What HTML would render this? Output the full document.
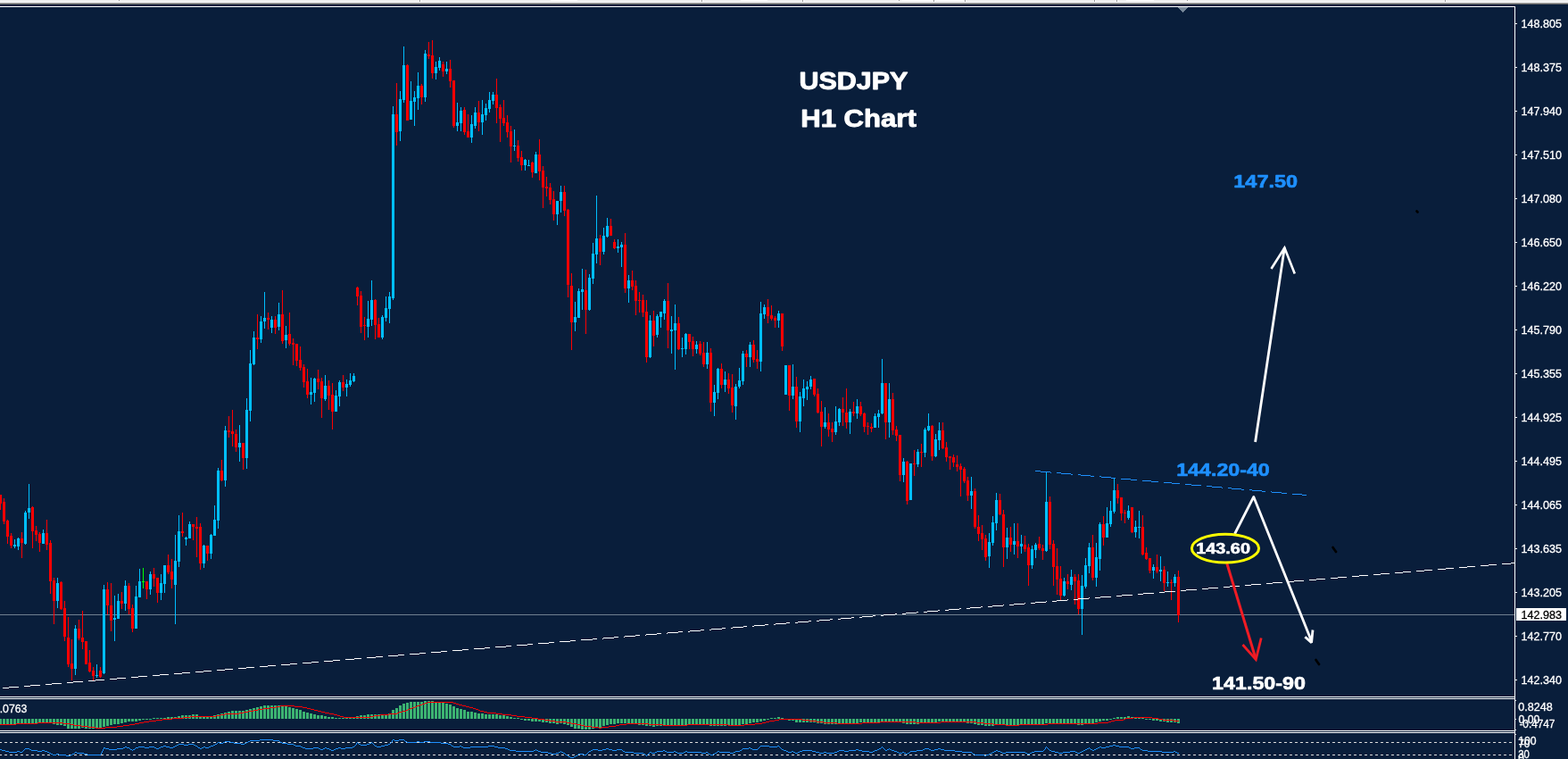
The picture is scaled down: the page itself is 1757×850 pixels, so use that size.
<!DOCTYPE html>
<html><head><meta charset="utf-8"><title>USDJPY H1 Chart</title>
<style>
html,body{margin:0;padding:0;background:#091e3b;overflow:hidden}
svg{display:block}
text{font-family:"Liberation Sans",sans-serif}
.ax{font-size:12.2px;fill:#fff;stroke:#fff;stroke-width:0.3px}
.t{font-weight:bold}
</style></head><body>
<svg width="1757" height="850" viewBox="0 0 1757 850">
<rect width="1757" height="850" fill="#091e3b"/>
<g shape-rendering="crispEdges"><rect width="1757" height="2" fill="#f0f0f0"/><rect y="2" width="1757" height="1" fill="#f6f6f6"/><rect y="3" width="1757" height="1" fill="#a0a0a0"/><rect y="4" width="1757" height="1" fill="#696969"/></g>

<g shape-rendering="crispEdges">
<rect x="617" y="0" width="30" height="1" fill="#fff"/>
<rect x="830" y="0" width="30" height="1" fill="#fff"/>
<rect x="1010" y="0" width="35" height="1" fill="#fff"/>
<rect x="1047" y="0" width="33" height="1" fill="#fff"/>
<rect x="1262" y="0" width="31" height="1" fill="#fff"/>
<rect x="470" y="0" width="1" height="2" fill="#9a9a9a"/><rect x="471" y="0" width="1" height="2" fill="#fff"/>
<rect x="786" y="0" width="1" height="2" fill="#9a9a9a"/><rect x="787" y="0" width="1" height="2" fill="#fff"/>
<rect x="899" y="0" width="1" height="2" fill="#9a9a9a"/><rect x="900" y="0" width="1" height="2" fill="#fff"/>
<rect x="1046" y="0" width="1" height="2" fill="#9a9a9a"/><rect x="1047" y="0" width="1" height="2" fill="#fff"/>
<rect x="1081" y="0" width="1" height="2" fill="#9a9a9a"/><rect x="1082" y="0" width="1" height="2" fill="#fff"/>
<rect x="1226" y="0" width="1" height="2" fill="#9a9a9a"/><rect x="1227" y="0" width="1" height="2" fill="#fff"/>
<rect x="1251" y="0" width="1" height="2" fill="#9a9a9a"/><rect x="1252" y="0" width="1" height="2" fill="#fff"/>
<rect x="1619" y="0" width="1" height="2" fill="#9a9a9a"/><rect x="1620" y="0" width="1" height="2" fill="#fff"/>
<rect x="133" y="0" width="1" height="1" fill="#9a9a9a"/>
<rect x="1007" y="0" width="1" height="1" fill="#9a9a9a"/>
<rect x="1330" y="0" width="1" height="1" fill="#9a9a9a"/>
</g>
<path shape-rendering="crispEdges" fill="#778899" d="M1320 8h11v1h-11zM1321 9h9v1h-9zM1322 10h7v1h-7zM1323 11h5v1h-5zM1324 12h3v1h-3zM1325 13h1v1h-1z"/>
<g shape-rendering="crispEdges" fill="#fff">
<rect x="0" y="7" width="1698" height="1"/>
<rect x="1697" y="7" width="1" height="843"/>
<rect x="0" y="780" width="1698" height="1"/><rect x="0" y="782" width="1698" height="1"/>
<rect x="0" y="818" width="1698" height="1"/><rect x="0" y="820" width="1698" height="1"/>
<rect x="1698" y="26" width="2" height="1"/>
<rect x="1698" y="75" width="2" height="1"/>
<rect x="1698" y="124" width="2" height="1"/>
<rect x="1698" y="173" width="2" height="1"/>
<rect x="1698" y="222" width="2" height="1"/>
<rect x="1698" y="271" width="2" height="1"/>
<rect x="1698" y="320" width="2" height="1"/>
<rect x="1698" y="369" width="2" height="1"/>
<rect x="1698" y="418" width="2" height="1"/>
<rect x="1698" y="467" width="2" height="1"/>
<rect x="1698" y="516" width="2" height="1"/>
<rect x="1698" y="565" width="2" height="1"/>
<rect x="1698" y="614" width="2" height="1"/>
<rect x="1698" y="663" width="2" height="1"/>
<rect x="1698" y="712" width="2" height="1"/>
<rect x="1698" y="761" width="2" height="1"/>
</g>
<text class="ax" x="1704.6" y="30.7" textLength="45.3" lengthAdjust="spacingAndGlyphs">148.805</text>
<text class="ax" x="1704.6" y="79.7" textLength="45.3" lengthAdjust="spacingAndGlyphs">148.375</text>
<text class="ax" x="1704.6" y="128.7" textLength="45.3" lengthAdjust="spacingAndGlyphs">147.940</text>
<text class="ax" x="1704.6" y="177.7" textLength="45.3" lengthAdjust="spacingAndGlyphs">147.510</text>
<text class="ax" x="1704.6" y="226.7" textLength="45.3" lengthAdjust="spacingAndGlyphs">147.080</text>
<text class="ax" x="1704.6" y="275.7" textLength="45.3" lengthAdjust="spacingAndGlyphs">146.650</text>
<text class="ax" x="1704.6" y="324.7" textLength="45.3" lengthAdjust="spacingAndGlyphs">146.220</text>
<text class="ax" x="1704.6" y="373.7" textLength="45.3" lengthAdjust="spacingAndGlyphs">145.790</text>
<text class="ax" x="1704.6" y="422.7" textLength="45.3" lengthAdjust="spacingAndGlyphs">145.355</text>
<text class="ax" x="1704.6" y="471.7" textLength="45.3" lengthAdjust="spacingAndGlyphs">144.925</text>
<text class="ax" x="1704.6" y="520.7" textLength="45.3" lengthAdjust="spacingAndGlyphs">144.495</text>
<text class="ax" x="1704.6" y="569.7" textLength="45.3" lengthAdjust="spacingAndGlyphs">144.065</text>
<text class="ax" x="1704.6" y="618.7" textLength="45.3" lengthAdjust="spacingAndGlyphs">143.635</text>
<text class="ax" x="1704.6" y="667.7" textLength="45.3" lengthAdjust="spacingAndGlyphs">143.205</text>
<text class="ax" x="1704.6" y="716.7" textLength="45.3" lengthAdjust="spacingAndGlyphs">142.770</text>
<text class="ax" x="1704.6" y="765.7" textLength="45.3" lengthAdjust="spacingAndGlyphs">142.340</text>
<rect x="0" y="688" width="1697" height="1" fill="#708090" shape-rendering="crispEdges"/>
<rect x="1699" y="681" width="56" height="14" fill="#fff" shape-rendering="crispEdges"/>
<text class="ax" x="1704.6" y="692.8" textLength="45.3" lengthAdjust="spacingAndGlyphs" style="fill:#000;stroke:#000">142.983</text>
<g shape-rendering="crispEdges"><path fill="#ff0000" d="M0 554h1v17h-1zM-1 554h3v10h-3zM4 558h1v29h-1zM3 562h3v22h-3zM8 582h1v27h-1zM7 583h3v18h-3zM12 597h1v17h-1zM11 600h3v11h-3zM24 596h1v29h-1zM23 603h3v5h-3zM36 567h1v47h-1zM35 568h3v27h-3zM40 589h1v17h-1zM39 594h3v5h-3zM44 596h1v22h-1zM43 598h3v10h-3zM52 582h1v34h-1zM51 597h3v13h-3zM56 605h1v60h-1zM55 608h3v43h-3zM60 647h1v52h-1zM59 650h3v23h-3zM68 651h1v32h-1zM67 652h3v30h-3zM72 673h1v45h-1zM71 681h3v32h-3zM76 691h1v56h-1zM75 714h3v30h-3zM80 716h1v46h-1zM79 743h3v6h-3zM88 694h1v23h-1zM87 704h3v11h-3zM92 684h1v43h-1zM91 714h3v5h-3zM96 718h1v26h-1zM95 718h3v26h-3zM100 728h1v25h-1zM99 742h3v10h-3zM104 747h1v15h-1zM103 751h3v6h-3zM112 747h1v12h-1zM111 751h3v7h-3zM120 652h1v36h-1zM119 660h3v18h-3zM124 653h1v54h-1zM123 678h3v17h-3zM136 663h1v19h-1zM135 673h3v3h-3zM144 653h1v35h-1zM143 656h3v26h-3zM148 677h1v31h-1zM147 681h3v23h-3zM164 651h1v20h-1zM163 651h3v9h-3zM172 636h1v21h-1zM171 643h3v5h-3zM176 647h1v28h-1zM175 647h3v17h-3zM188 621h1v22h-1zM187 633h3v8h-3zM192 626h1v33h-1zM191 640h3v9h-3zM204 574h1v27h-1zM203 595h3v2h-3zM216 587h1v18h-1zM215 587h3v3h-3zM220 579h1v45h-1zM219 590h3v2h-3zM224 586h1v52h-1zM223 590h3v41h-3zM232 611h1v17h-1zM231 611h3v9h-3zM248 515h1v24h-1zM247 527h3v11h-3zM256 466h1v24h-1zM255 482h3v2h-3zM260 459h1v41h-1zM259 483h3v3h-3zM264 481h1v25h-1zM263 486h3v15h-3zM272 496h1v30h-1zM271 496h3v17h-3zM288 352h1v39h-1zM287 378h3v2h-3zM300 350h1v19h-1zM299 356h3v2h-3zM308 354h1v20h-1zM307 358h3v9h-3zM316 325h1v60h-1zM315 352h3v30h-3zM324 350h1v37h-1zM323 374h3v11h-3zM328 379h1v30h-1zM327 384h3v2h-3zM332 385h1v25h-1zM331 385h3v19h-3zM336 388h1v27h-1zM335 403h3v9h-3zM340 408h1v26h-1zM339 411h3v17h-3zM344 413h1v33h-1zM343 427h3v15h-3zM356 414h1v22h-1zM355 424h3v4h-3zM360 423h1v45h-1zM359 427h3v19h-3zM368 426h1v33h-1zM367 432h3v11h-3zM372 429h1v52h-1zM371 442h3v19h-3zM384 420h1v18h-1zM383 428h3v6h-3zM400 321h1v21h-1zM399 322h3v10h-3zM404 326h1v47h-1zM403 331h3v35h-3zM408 355h1v26h-1zM407 364h3v1h-3zM420 335h1v45h-1zM419 336h3v28h-3zM424 356h1v22h-1zM423 363h3v15h-3zM444 93h1v70h-1zM443 128h3v20h-3zM456 72h1v63h-1zM455 73h3v62h-3zM472 94h1v23h-1zM471 96h3v13h-3zM480 47h1v19h-1zM479 61h3v2h-3zM484 45h1v43h-1zM483 62h3v20h-3zM496 69h1v17h-1zM495 72h3v8h-3zM504 67h1v31h-1zM503 77h3v14h-3zM508 90h1v53h-1zM507 90h3v51h-3zM520 120h1v31h-1zM519 123h3v25h-3zM524 128h1v26h-1zM523 147h3v7h-3zM536 113h1v34h-1zM535 126h3v11h-3zM556 88h1v50h-1zM555 106h3v15h-3zM560 117h1v42h-1zM559 120h3v13h-3zM564 112h1v29h-1zM563 132h3v6h-3zM568 129h1v25h-1zM567 137h3v11h-3zM572 141h1v41h-1zM571 147h3v17h-3zM580 157h1v24h-1zM579 163h3v14h-3zM584 169h1v22h-1zM583 176h3v9h-3zM596 181h1v18h-1zM595 182h3v11h-3zM604 156h1v46h-1zM603 173h3v19h-3zM608 186h1v47h-1zM607 191h3v19h-3zM612 198h1v22h-1zM611 209h3v2h-3zM616 205h1v24h-1zM615 210h3v14h-3zM620 214h1v33h-1zM619 223h3v17h-3zM632 208h1v34h-1zM631 215h3v21h-3zM636 234h1v99h-1zM635 235h3v84h-3zM640 306h1v86h-1zM639 320h3v41h-3zM656 302h1v72h-1zM655 325h3v22h-3zM672 263h1v34h-1zM671 267h3v15h-3zM684 245h1v19h-1zM683 253h3v11h-3zM688 268h1v11h-1zM687 271h3v7h-3zM700 261h1v67h-1zM699 274h3v49h-3zM708 303h1v22h-1zM707 314h3v7h-3zM712 314h1v39h-1zM711 320h3v17h-3zM716 327h1v23h-1zM715 336h3v1h-3zM720 330h1v25h-1zM719 336h3v14h-3zM724 336h1v70h-1zM723 349h3v51h-3zM732 348h1v40h-1zM731 359h3v17h-3zM748 317h1v73h-1zM747 337h3v33h-3zM760 355h1v37h-1zM759 362h3v29h-3zM772 374h1v17h-1zM771 374h3v9h-3zM776 377h1v22h-1zM775 382h3v9h-3zM784 382h1v16h-1zM783 385h3v11h-3zM788 383h1v28h-1zM787 395h3v13h-3zM796 390h1v71h-1zM795 395h3v56h-3zM808 407h1v28h-1zM807 413h3v18h-3zM816 418h1v23h-1zM815 425h3v10h-3zM820 419h1v43h-1zM819 434h3v20h-3zM836 392h1v19h-1zM835 396h3v4h-3zM844 381h1v25h-1zM843 386h3v17h-3zM848 392h1v21h-1zM847 402h3v3h-3zM860 335h1v27h-1zM859 344h3v10h-3zM864 342h1v17h-1zM863 353h3v4h-3zM868 354h1v13h-1zM867 356h3v3h-3zM876 351h1v42h-1zM875 351h3v37h-3zM884 409h1v51h-1zM883 409h3v34h-3zM892 422h1v57h-1zM891 433h3v39h-3zM912 424h1v20h-1zM911 424h3v18h-3zM916 435h1v28h-1zM915 441h3v21h-3zM920 449h1v51h-1zM919 461h3v17h-3zM928 463h1v26h-1zM927 473h3v8h-3zM932 473h1v22h-1zM931 480h3v4h-3zM944 445h1v32h-1zM943 458h3v4h-3zM948 435h1v45h-1zM947 462h3v11h-3zM956 450h1v16h-1zM955 461h3v2h-3zM964 450h1v16h-1zM963 455h3v9h-3zM968 462h1v22h-1zM967 463h3v15h-3zM972 473h1v14h-1zM971 477h3v1h-3zM976 474h1v10h-1zM975 478h3v2h-3zM992 429h1v63h-1zM991 429h3v44h-3zM1000 440h1v47h-1zM999 447h3v35h-3zM1004 477h1v17h-1zM1003 481h3v7h-3zM1008 487h1v52h-1zM1007 487h3v45h-3zM1016 516h1v49h-1zM1015 517h3v44h-3zM1024 504h1v29h-1zM1023 519h3v1h-3zM1032 497h1v26h-1zM1031 506h3v1h-3zM1044 476h1v40h-1zM1043 477h3v34h-3zM1056 473h1v30h-1zM1055 482h3v20h-3zM1060 495h1v22h-1zM1059 501h3v11h-3zM1064 511h1v15h-1zM1063 511h3v2h-3zM1068 509h1v14h-1zM1067 512h3v6h-3zM1072 510h1v18h-1zM1071 520h3v3h-3zM1076 519h1v37h-1zM1075 522h3v4h-3zM1080 523h1v18h-1zM1079 525h3v14h-3zM1084 534h1v27h-1zM1083 538h3v17h-3zM1092 547h1v45h-1zM1091 550h3v40h-3zM1096 577h1v29h-1zM1095 590h3v8h-3zM1100 588h1v28h-1zM1099 597h3v7h-3zM1104 599h1v29h-1zM1103 603h3v21h-3zM1120 553h1v24h-1zM1119 560h3v16h-3zM1124 571h1v64h-1zM1123 576h3v37h-3zM1132 590h1v28h-1zM1131 602h3v8h-3zM1140 586h1v39h-1zM1139 606h3v6h-3zM1148 600h1v18h-1zM1147 610h3v5h-3zM1152 609h1v47h-1zM1151 613h3v20h-3zM1164 601h1v15h-1zM1163 609h3v5h-3zM1168 610h1v17h-1zM1167 614h3v3h-3zM1176 556h1v59h-1zM1175 562h3v48h-3zM1180 605h1v51h-1zM1179 609h3v26h-3zM1184 614h1v52h-1zM1183 634h3v15h-3zM1188 634h1v38h-1zM1187 648h3v19h-3zM1196 643h1v17h-1zM1195 651h3v3h-3zM1204 643h1v34h-1zM1203 646h3v5h-3zM1208 643h1v45h-1zM1207 650h3v32h-3zM1224 599h1v51h-1zM1223 613h3v34h-3zM1236 578h1v33h-1zM1235 587h3v15h-3zM1252 542h1v22h-1zM1251 549h3v9h-3zM1256 557h1v26h-1zM1255 557h3v18h-3zM1260 571h1v15h-1zM1259 574h3v1h-3zM1268 568h1v29h-1zM1267 568h3v28h-3zM1280 577h1v45h-1zM1279 590h3v31h-3zM1284 613h1v14h-1zM1283 619h3v7h-3zM1288 625h1v17h-1zM1287 625h3v14h-3zM1296 621h1v21h-1zM1295 635h3v5h-3zM1304 634h1v28h-1zM1303 638h3v15h-3zM1312 649h1v23h-1zM1311 652h3v1h-3zM1320 639h1v58h-1zM1319 646h3v43h-3z"/><path fill="#00bfff" d="M16 604h1v10h-1zM15 610h3v2h-3zM20 602h1v14h-1zM19 603h3v9h-3zM28 572h1v38h-1zM27 574h3v35h-3zM32 542h1v39h-1zM31 569h3v5h-3zM48 593h1v16h-1zM47 597h3v12h-3zM64 647h1v34h-1zM63 653h3v20h-3zM84 700h1v56h-1zM83 704h3v45h-3zM108 744h1v15h-1zM107 756h3v1h-3zM116 655h1v100h-1zM115 660h3v94h-3zM128 667h1v51h-1zM127 692h3v2h-3zM132 665h1v28h-1zM131 673h3v20h-3zM140 650h1v34h-1zM139 656h3v20h-3zM152 656h1v48h-1zM151 668h3v36h-3zM156 637h1v32h-1zM155 651h3v18h-3zM168 640h1v26h-1zM167 643h3v17h-3zM180 643h1v29h-1zM179 653h3v11h-3zM184 633h1v31h-1zM183 633h3v21h-3zM196 599h1v100h-1zM195 628h3v27h-3zM200 577h1v58h-1zM199 595h3v34h-3zM208 601h1v10h-1zM207 602h3v2h-3zM212 584h1v19h-1zM211 587h3v16h-3zM228 610h1v26h-1zM227 611h3v20h-3zM236 598h1v28h-1zM235 599h3v21h-3zM240 566h1v34h-1zM239 582h3v18h-3zM244 524h1v68h-1zM243 527h3v56h-3zM252 477h1v68h-1zM251 482h3v56h-3zM268 476h1v41h-1zM267 496h3v5h-3zM276 446h1v79h-1zM275 459h3v54h-3zM280 392h1v80h-1zM279 407h3v53h-3zM284 371h1v38h-1zM283 378h3v30h-3zM292 354h1v30h-1zM291 360h3v20h-3zM296 327h1v41h-1zM295 356h3v4h-3zM304 354h1v19h-1zM303 358h3v9h-3zM312 339h1v31h-1zM311 352h3v14h-3zM320 365h1v25h-1zM319 375h3v6h-3zM348 423h1v30h-1zM347 439h3v3h-3zM352 423h1v27h-1zM351 424h3v16h-3zM364 420h1v29h-1zM363 432h3v15h-3zM376 437h1v24h-1zM375 443h3v18h-3zM380 426h1v29h-1zM379 428h3v16h-3zM388 425h1v19h-1zM387 430h3v4h-3zM392 418h1v15h-1zM391 426h3v5h-3zM396 418h1v10h-1zM395 421h3v6h-3zM412 337h1v41h-1zM411 357h3v9h-3zM416 314h1v51h-1zM415 336h3v22h-3zM428 353h1v27h-1zM427 355h3v23h-3zM432 332h1v28h-1zM431 345h3v11h-3zM436 327h1v35h-1zM435 332h3v14h-3zM440 119h1v217h-1zM439 128h3v206h-3zM448 102h1v56h-1zM447 111h3v36h-3zM452 52h1v63h-1zM451 73h3v39h-3zM460 91h1v43h-1zM459 113h3v21h-3zM464 102h1v39h-1zM463 109h3v5h-3zM468 81h1v42h-1zM467 96h3v14h-3zM476 56h1v58h-1zM475 60h3v49h-3zM488 69h1v20h-1zM487 75h3v7h-3zM492 64h1v15h-1zM491 68h3v8h-3zM500 69h1v14h-1zM499 77h3v3h-3zM512 115h1v32h-1zM511 137h3v4h-3zM516 120h1v27h-1zM515 124h3v14h-3zM528 129h1v31h-1zM527 139h3v15h-3zM532 120h1v24h-1zM531 126h3v15h-3zM540 112h1v39h-1zM539 128h3v9h-3zM544 116h1v19h-1zM543 121h3v8h-3zM548 103h1v23h-1zM547 112h3v10h-3zM552 103h1v14h-1zM551 106h3v7h-3zM576 145h1v24h-1zM575 163h3v1h-3zM588 178h1v13h-1zM587 179h3v6h-3zM592 179h1v7h-1zM591 185h3v1h-3zM600 170h1v24h-1zM599 173h3v21h-3zM624 225h1v27h-1zM623 225h3v15h-3zM628 208h1v30h-1zM627 215h3v10h-3zM644 338h1v33h-1zM643 355h3v6h-3zM648 323h1v33h-1zM647 326h3v30h-3zM652 301h1v46h-1zM651 324h3v3h-3zM660 307h1v41h-1zM659 311h3v36h-3zM664 272h1v46h-1zM663 284h3v28h-3zM668 219h1v76h-1zM667 267h3v18h-3zM676 255h1v30h-1zM675 264h3v18h-3zM680 244h1v22h-1zM679 253h3v12h-3zM692 268h1v15h-1zM691 276h3v2h-3zM696 271h1v28h-1zM695 274h3v3h-3zM704 308h1v31h-1zM703 314h3v9h-3zM728 353h1v48h-1zM727 359h3v41h-3zM736 352h1v26h-1zM735 354h3v21h-3zM740 349h1v18h-1zM739 349h3v6h-3zM744 335h1v23h-1zM743 337h3v14h-3zM752 354h1v42h-1zM751 369h3v2h-3zM756 341h1v73h-1zM755 362h3v8h-3zM764 378h1v22h-1zM763 390h3v1h-3zM768 373h1v24h-1zM767 374h3v17h-3zM780 382h1v14h-1zM779 386h3v5h-3zM792 383h1v30h-1zM791 395h3v13h-3zM800 431h1v35h-1zM799 439h3v12h-3zM804 412h1v35h-1zM803 413h3v27h-3zM812 416h1v23h-1zM811 425h3v6h-3zM824 430h1v40h-1zM823 433h3v22h-3zM828 412h1v23h-1zM827 426h3v7h-3zM832 393h1v38h-1zM831 396h3v31h-3zM840 383h1v28h-1zM839 386h3v14h-3zM852 338h1v78h-1zM851 351h3v54h-3zM856 341h1v16h-1zM855 344h3v8h-3zM872 348h1v19h-1zM871 351h3v8h-3zM880 409h1v33h-1zM879 409h3v33h-3zM888 408h1v39h-1zM887 433h3v10h-3zM896 439h1v45h-1zM895 444h3v28h-3zM900 425h1v30h-1zM899 435h3v11h-3zM904 427h1v21h-1zM903 433h3v3h-3zM908 421h1v15h-1zM907 425h3v8h-3zM924 456h1v24h-1zM923 473h3v5h-3zM936 455h1v32h-1zM935 472h3v12h-3zM940 457h1v20h-1zM939 458h3v15h-3zM952 458h1v28h-1zM951 461h3v12h-3zM960 447h1v22h-1zM959 455h3v8h-3zM980 463h1v16h-1zM979 466h3v13h-3zM984 459h1v20h-1zM983 463h3v4h-3zM988 402h1v62h-1zM987 429h3v34h-3zM996 429h1v61h-1zM995 447h3v26h-3zM1012 513h1v27h-1zM1011 517h3v15h-3zM1020 519h1v41h-1zM1019 519h3v41h-3zM1028 503h1v20h-1zM1027 506h3v14h-3zM1036 479h1v33h-1zM1035 481h3v26h-3zM1040 463h1v20h-1zM1039 477h3v5h-3zM1048 486h1v26h-1zM1047 492h3v19h-3zM1052 473h1v31h-1zM1051 482h3v11h-3zM1088 534h1v36h-1zM1087 550h3v5h-3zM1108 597h1v39h-1zM1107 607h3v16h-3zM1112 578h1v33h-1zM1111 585h3v23h-3zM1116 552h1v42h-1zM1115 560h3v26h-3zM1128 591h1v35h-1zM1127 602h3v11h-3zM1136 586h1v35h-1zM1135 606h3v4h-3zM1144 599h1v21h-1zM1143 609h3v3h-3zM1156 611h1v26h-1zM1155 615h3v18h-3zM1160 608h1v17h-1zM1159 610h3v6h-3zM1172 529h1v89h-1zM1171 562h3v55h-3zM1192 647h1v21h-1zM1191 651h3v16h-3zM1200 638h1v23h-1zM1199 646h3v9h-3zM1212 644h1v67h-1zM1211 656h3v26h-3zM1216 625h1v34h-1zM1215 633h3v24h-3zM1220 608h1v34h-1zM1219 613h3v21h-3zM1228 608h1v49h-1zM1227 624h3v23h-3zM1232 585h1v54h-1zM1231 587h3v39h-3zM1240 568h1v34h-1zM1239 586h3v16h-3zM1244 561h1v29h-1zM1243 572h3v15h-3zM1248 535h1v40h-1zM1247 549h3v24h-3zM1264 566h1v16h-1zM1263 572h3v8h-3zM1272 583h1v19h-1zM1271 590h3v6h-3zM1276 572h1v31h-1zM1275 590h3v1h-3zM1292 632h1v16h-1zM1291 635h3v4h-3zM1300 623h1v28h-1zM1299 638h3v2h-3zM1308 640h1v17h-1zM1307 652h3v1h-3zM1316 643h1v14h-1zM1315 646h3v7h-3z"/><path fill="#00ff00" d="M160 636h1v23h-1zM159 651h3v1h-3z"/></g>
<path fill="#fff" shape-rendering="crispEdges" d="M3 770h7v1h-7zM10 769h11v1h-11zM27 768h7v1h-7zM34 767h11v1h-11zM51 766h7v1h-7zM58 765h11v1h-11zM75 764h7v1h-7zM82 763h11v1h-11zM99 762h8v1h-8zM107 761h10v1h-10zM123 760h8v1h-8zM131 759h10v1h-10zM147 758h8v1h-8zM155 757h10v1h-10zM171 756h8v1h-8zM179 755h10v1h-10zM195 754h9v1h-9zM204 753h9v1h-9zM219 752h9v1h-9zM228 751h9v1h-9zM243 750h9v1h-9zM252 749h9v1h-9zM267 748h9v1h-9zM276 747h9v1h-9zM291 746h9v1h-9zM300 745h9v1h-9zM315 744h10v1h-10zM325 743h8v1h-8zM339 742h10v1h-10zM349 741h8v1h-8zM363 740h10v1h-10zM373 739h8v1h-8zM387 738h10v1h-10zM397 737h8v1h-8zM411 736h10v1h-10zM421 735h8v1h-8zM435 734h11v1h-11zM446 733h7v1h-7zM459 732h11v1h-11zM470 731h7v1h-7zM483 730h11v1h-11zM494 729h7v1h-7zM507 728h11v1h-11zM518 727h7v1h-7zM531 726h12v1h-12zM543 725h6v1h-6zM555 724h12v1h-12zM567 723h6v1h-6zM579 722h12v1h-12zM591 721h6v1h-6zM603 720h12v1h-12zM615 719h6v1h-6zM627 718h12v1h-12zM639 717h6v1h-6zM651 716h13v1h-13zM664 715h5v1h-5zM675 715h1v1h-1zM676 714h12v1h-12zM688 713h5v1h-5zM699 713h1v1h-1zM700 712h12v1h-12zM712 711h5v1h-5zM723 711h1v1h-1zM724 710h12v1h-12zM736 709h5v1h-5zM747 709h1v1h-1zM748 708h12v1h-12zM760 707h5v1h-5zM771 707h2v1h-2zM773 706h12v1h-12zM785 705h4v1h-4zM795 705h2v1h-2zM797 704h12v1h-12zM809 703h4v1h-4zM819 703h2v1h-2zM821 702h12v1h-12zM833 701h4v1h-4zM843 701h2v1h-2zM845 700h12v1h-12zM857 699h4v1h-4zM867 699h2v1h-2zM869 698h12v1h-12zM881 697h4v1h-4zM891 697h3v1h-3zM894 696h12v1h-12zM906 695h3v1h-3zM915 695h3v1h-3zM918 694h12v1h-12zM930 693h3v1h-3zM939 693h3v1h-3zM942 692h12v1h-12zM954 691h3v1h-3zM963 691h3v1h-3zM966 690h12v1h-12zM978 689h3v1h-3zM987 689h3v1h-3zM990 688h13v1h-13zM1003 687h2v1h-2zM1011 687h4v1h-4zM1015 686h12v1h-12zM1027 685h2v1h-2zM1035 685h4v1h-4zM1039 684h12v1h-12zM1051 683h2v1h-2zM1059 683h4v1h-4zM1063 682h12v1h-12zM1075 681h2v1h-2zM1083 681h4v1h-4zM1087 680h12v1h-12zM1099 679h2v1h-2zM1107 679h5v1h-5zM1112 678h12v1h-12zM1124 677h1v1h-1zM1131 677h5v1h-5zM1136 676h12v1h-12zM1148 675h1v1h-1zM1155 675h5v1h-5zM1160 674h12v1h-12zM1172 673h1v1h-1zM1179 673h5v1h-5zM1184 672h12v1h-12zM1196 671h1v1h-1zM1203 671h5v1h-5zM1208 670h12v1h-12zM1220 669h1v1h-1zM1227 669h6v1h-6zM1233 668h12v1h-12zM1251 667h6v1h-6zM1257 666h12v1h-12zM1275 665h6v1h-6zM1281 664h12v1h-12zM1299 663h6v1h-6zM1305 662h12v1h-12zM1323 661h6v1h-6zM1329 660h12v1h-12zM1347 659h7v1h-7zM1354 658h11v1h-11zM1371 657h7v1h-7zM1378 656h11v1h-11zM1395 655h7v1h-7zM1402 654h11v1h-11zM1419 653h7v1h-7zM1426 652h11v1h-11zM1443 651h7v1h-7zM1450 650h11v1h-11zM1467 649h8v1h-8zM1475 648h10v1h-10zM1491 647h8v1h-8zM1499 646h10v1h-10zM1515 645h8v1h-8zM1523 644h10v1h-10zM1539 643h8v1h-8zM1547 642h10v1h-10zM1563 641h9v1h-9zM1572 640h9v1h-9zM1587 639h9v1h-9zM1596 638h9v1h-9zM1611 637h9v1h-9zM1620 636h9v1h-9zM1635 635h9v1h-9zM1644 634h9v1h-9zM1659 633h9v1h-9zM1668 632h9v1h-9zM1683 631h10v1h-10zM1693 630h4v1h-4z"/>
<g shape-rendering="crispEdges">
<path fill="#3cb371" d="M-1 805h3v6h-3zM3 805h3v6h-3zM7 805h3v6h-3zM11 805h3v6h-3zM15 805h3v6h-3zM19 805h3v5h-3zM23 805h3v5h-3zM27 805h3v5h-3zM31 805h3v5h-3zM35 805h3v5h-3zM39 805h3v5h-3zM43 805h3v4h-3zM47 805h3v4h-3zM51 805h3v4h-3zM55 805h3v4h-3zM59 805h3v6h-3zM63 805h3v7h-3zM67 805h3v7h-3zM71 805h3v8h-3zM75 805h3v11h-3zM79 805h3v11h-3zM83 805h3v11h-3zM87 805h3v11h-3zM91 805h3v10h-3zM95 805h3v11h-3zM99 805h3v11h-3zM103 805h3v11h-3zM107 805h3v10h-3zM111 805h3v10h-3zM115 805h3v9h-3zM119 805h3v8h-3zM123 805h3v7h-3zM127 805h3v6h-3zM131 805h3v6h-3zM135 805h3v5h-3zM139 805h3v4h-3zM143 805h3v3h-3zM147 805h3v3h-3zM151 805h3v3h-3zM155 805h3v2h-3zM159 805h3v1h-3zM163 805h3v1h-3zM167 805h3v1h-3zM171 804h3v1h-3zM175 804h3v1h-3zM179 804h3v1h-3zM183 804h3v1h-3zM187 803h3v2h-3zM191 803h3v2h-3zM195 803h3v2h-3zM199 802h3v3h-3zM203 801h3v4h-3zM207 801h3v4h-3zM211 801h3v4h-3zM215 800h3v5h-3zM219 800h3v5h-3zM223 802h3v3h-3zM227 802h3v3h-3zM231 802h3v3h-3zM235 802h3v3h-3zM239 801h3v4h-3zM243 800h3v5h-3zM247 799h3v6h-3zM251 798h3v7h-3zM255 797h3v8h-3zM259 796h3v9h-3zM263 796h3v9h-3zM267 796h3v9h-3zM271 796h3v9h-3zM275 795h3v10h-3zM279 794h3v11h-3zM283 793h3v12h-3zM287 792h3v13h-3zM291 791h3v14h-3zM295 790h3v15h-3zM299 790h3v15h-3zM303 790h3v15h-3zM307 790h3v15h-3zM311 790h3v15h-3zM315 791h3v14h-3zM319 791h3v14h-3zM323 792h3v13h-3zM327 793h3v12h-3zM331 794h3v11h-3zM335 795h3v10h-3zM339 797h3v8h-3zM343 798h3v7h-3zM347 799h3v6h-3zM351 800h3v5h-3zM355 801h3v4h-3zM359 801h3v4h-3zM363 802h3v3h-3zM367 803h3v2h-3zM371 803h3v2h-3zM375 804h3v1h-3zM379 804h3v1h-3zM383 804h3v1h-3zM387 804h3v1h-3zM391 804h3v1h-3zM395 804h3v1h-3zM399 802h3v3h-3zM403 801h3v4h-3zM407 801h3v4h-3zM411 800h3v5h-3zM415 800h3v5h-3zM419 800h3v5h-3zM423 800h3v5h-3zM427 800h3v5h-3zM431 801h3v4h-3zM435 799h3v6h-3zM439 795h3v10h-3zM443 793h3v12h-3zM447 790h3v15h-3zM451 788h3v17h-3zM455 787h3v18h-3zM459 786h3v19h-3zM463 786h3v19h-3zM467 786h3v19h-3zM471 786h3v19h-3zM475 785h3v20h-3zM479 785h3v20h-3zM483 785h3v20h-3zM487 786h3v19h-3zM491 786h3v19h-3zM495 787h3v18h-3zM499 788h3v17h-3zM503 789h3v16h-3zM507 791h3v14h-3zM511 793h3v12h-3zM515 794h3v11h-3zM519 795h3v10h-3zM523 797h3v8h-3zM527 797h3v8h-3zM531 798h3v7h-3zM535 799h3v6h-3zM539 799h3v6h-3zM543 800h3v5h-3zM547 800h3v5h-3zM551 800h3v5h-3zM555 800h3v5h-3zM559 801h3v4h-3zM563 801h3v4h-3zM567 802h3v3h-3zM571 803h3v2h-3zM575 804h3v1h-3zM579 804h3v1h-3zM583 805h3v1h-3zM587 805h3v2h-3zM591 805h3v2h-3zM595 805h3v3h-3zM599 805h3v3h-3zM603 805h3v3h-3zM607 805h3v4h-3zM611 805h3v4h-3zM615 805h3v5h-3zM619 805h3v5h-3zM623 805h3v6h-3zM627 805h3v5h-3zM631 805h3v6h-3zM635 805h3v7h-3zM639 805h3v9h-3zM643 805h3v11h-3zM647 805h3v11h-3zM651 805h3v12h-3zM655 805h3v12h-3zM659 805h3v12h-3zM663 805h3v11h-3zM667 805h3v10h-3zM671 805h3v10h-3zM675 805h3v8h-3zM679 805h3v7h-3zM683 805h3v6h-3zM687 805h3v6h-3zM691 805h3v5h-3zM695 805h3v5h-3zM699 805h3v5h-3zM703 805h3v5h-3zM707 805h3v5h-3zM711 805h3v5h-3zM715 805h3v7h-3zM719 805h3v7h-3zM723 805h3v8h-3zM727 805h3v8h-3zM731 805h3v9h-3zM735 805h3v8h-3zM739 805h3v8h-3zM743 805h3v7h-3zM747 805h3v7h-3zM751 805h3v7h-3zM755 805h3v7h-3zM759 805h3v7h-3zM763 805h3v7h-3zM767 805h3v7h-3zM771 805h3v6h-3zM775 805h3v6h-3zM779 805h3v6h-3zM783 805h3v6h-3zM787 805h3v6h-3zM791 805h3v6h-3zM795 805h3v8h-3zM799 805h3v8h-3zM803 805h3v8h-3zM807 805h3v8h-3zM811 805h3v8h-3zM815 805h3v7h-3zM819 805h3v7h-3zM823 805h3v7h-3zM827 805h3v7h-3zM831 805h3v6h-3zM835 805h3v6h-3zM839 805h3v5h-3zM843 805h3v4h-3zM847 805h3v4h-3zM851 805h3v3h-3zM855 805h3v2h-3zM859 805h3v1h-3zM863 804h3v1h-3zM867 804h3v1h-3zM871 803h3v2h-3zM875 804h3v1h-3zM879 805h3v1h-3zM883 805h3v2h-3zM887 805h3v2h-3zM891 805h3v4h-3zM895 805h3v4h-3zM899 805h3v4h-3zM903 805h3v4h-3zM907 805h3v4h-3zM911 805h3v4h-3zM915 805h3v5h-3zM919 805h3v5h-3zM923 805h3v6h-3zM927 805h3v6h-3zM931 805h3v6h-3zM935 805h3v6h-3zM939 805h3v5h-3zM943 805h3v5h-3zM947 805h3v5h-3zM951 805h3v5h-3zM955 805h3v5h-3zM959 805h3v5h-3zM963 805h3v4h-3zM967 805h3v4h-3zM971 805h3v4h-3zM975 805h3v4h-3zM979 805h3v4h-3zM983 805h3v4h-3zM987 805h3v3h-3zM991 805h3v3h-3zM995 805h3v3h-3zM999 805h3v3h-3zM1003 805h3v3h-3zM1007 805h3v3h-3zM1011 805h3v5h-3zM1015 805h3v6h-3zM1019 805h3v6h-3zM1023 805h3v6h-3zM1027 805h3v6h-3zM1031 805h3v4h-3zM1035 805h3v4h-3zM1039 805h3v4h-3zM1043 805h3v4h-3zM1047 805h3v4h-3zM1051 805h3v3h-3zM1055 805h3v3h-3zM1059 805h3v3h-3zM1063 805h3v3h-3zM1067 805h3v3h-3zM1071 805h3v3h-3zM1075 805h3v3h-3zM1079 805h3v3h-3zM1083 805h3v5h-3zM1087 805h3v5h-3zM1091 805h3v6h-3zM1095 805h3v7h-3zM1099 805h3v7h-3zM1103 805h3v8h-3zM1107 805h3v8h-3zM1111 805h3v8h-3zM1115 805h3v6h-3zM1119 805h3v6h-3zM1123 805h3v6h-3zM1127 805h3v7h-3zM1131 805h3v7h-3zM1135 805h3v7h-3zM1139 805h3v7h-3zM1143 805h3v6h-3zM1147 805h3v6h-3zM1151 805h3v6h-3zM1155 805h3v6h-3zM1159 805h3v6h-3zM1163 805h3v6h-3zM1167 805h3v6h-3zM1171 805h3v5h-3zM1175 805h3v5h-3zM1179 805h3v5h-3zM1183 805h3v5h-3zM1187 805h3v5h-3zM1191 805h3v5h-3zM1195 805h3v5h-3zM1199 805h3v5h-3zM1203 805h3v5h-3zM1207 805h3v7h-3zM1211 805h3v7h-3zM1215 805h3v5h-3zM1219 805h3v5h-3zM1223 805h3v5h-3zM1227 805h3v4h-3zM1231 805h3v3h-3zM1235 805h3v2h-3zM1239 805h3v2h-3zM1243 805h3v1h-3zM1247 804h3v1h-3zM1251 803h3v2h-3zM1255 803h3v2h-3zM1259 803h3v2h-3zM1263 802h3v3h-3zM1267 803h3v2h-3zM1271 804h3v1h-3zM1275 804h3v1h-3zM1279 804h3v1h-3zM1283 805h3v1h-3zM1287 805h3v1h-3zM1291 805h3v2h-3zM1295 805h3v2h-3zM1299 805h3v3h-3zM1303 805h3v3h-3zM1307 805h3v4h-3zM1311 805h3v4h-3zM1315 805h3v4h-3zM1319 805h3v5h-3z"/>
<path fill="#ff0000" d="M0 811h18v1h-18zM18 810h24v1h-24zM42 809h29v1h-29zM71 810h8v1h-8zM79 811h4v1h-4zM83 812h8v1h-8zM91 813h8v1h-8zM99 814h8v1h-8zM107 815h11v1h-11zM118 814h13v1h-13zM131 813h7v1h-7zM138 812h7v1h-7zM145 811h6v1h-6zM151 810h5v1h-5zM156 809h5v1h-5zM161 808h6v1h-6zM167 807h8v1h-8zM175 806h7v1h-7zM182 805h11v1h-11zM193 804h12v1h-12zM205 803h8v1h-8zM213 802h29v1h-29zM242 801h5v1h-5zM247 800h5v1h-5zM252 799h16v1h-16zM268 798h5v1h-5zM273 797h5v1h-5zM278 796h6v1h-6zM284 795h5v1h-5zM289 794h6v1h-6zM295 793h7v1h-7zM302 792h7v1h-7zM309 791h5v1h-5zM314 790h16v1h-16zM330 791h9v1h-9zM339 792h5v1h-5zM344 793h4v1h-4zM348 794h4v1h-4zM352 795h4v1h-4zM356 796h4v1h-4zM360 797h4v1h-4zM364 798h5v1h-5zM369 799h5v1h-5zM374 800h4v1h-4zM378 801h3v1h-3zM381 802h4v1h-4zM385 803h30v1h-30zM415 802h4v1h-4zM419 801h7v1h-7zM426 800h10v1h-10zM436 799h9v1h-9zM445 798h2v1h-2zM447 797h4v1h-4zM451 796h4v1h-4zM455 795h2v1h-2zM457 794h2v1h-2zM459 793h3v1h-3zM462 792h3v1h-3zM465 791h2v1h-2zM467 790h3v1h-3zM470 789h3v1h-3zM473 788h3v1h-3zM476 787h3v1h-3zM479 786h29v1h-29zM508 787h3v1h-3zM511 788h3v1h-3zM514 789h4v1h-4zM518 790h4v1h-4zM522 791h4v1h-4zM526 792h4v1h-4zM530 793h3v1h-3zM533 794h3v1h-3zM536 795h2v1h-2zM538 796h4v1h-4zM542 797h4v1h-4zM546 798h10v1h-10zM556 799h7v1h-7zM563 800h10v1h-10zM573 801h6v1h-6zM579 802h9v1h-9zM588 803h8v1h-8zM596 804h7v1h-7zM603 805h7v1h-7zM610 806h6v1h-6zM616 807h6v1h-6zM622 808h13v1h-13zM635 809h5v1h-5zM640 810h6v1h-6zM646 811h5v1h-5zM651 812h4v1h-4zM655 813h8v1h-8zM663 814h8v1h-8zM671 815h3v1h-3zM674 814h8v1h-8zM682 813h8v1h-8zM690 812h4v1h-4zM694 811h8v1h-8zM702 810h25v1h-25zM727 811h16v1h-16zM743 812h27v1h-27zM770 811h46v1h-46zM816 812h18v1h-18zM834 811h12v1h-12zM846 810h8v1h-8zM854 809h4v1h-4zM858 808h4v1h-4zM862 807h6v1h-6zM868 806h5v1h-5zM873 805h26v1h-26zM899 806h8v1h-8zM907 807h8v1h-8zM915 808h8v1h-8zM923 809h15v1h-15zM938 810h28v1h-28zM966 809h20v1h-20zM986 808h40v1h-40zM1026 809h28v1h-28zM1054 808h40v1h-40zM1094 809h9v1h-9zM1103 810h10v1h-10zM1113 811h14v1h-14zM1127 812h15v1h-15zM1142 811h32v1h-32zM1174 810h56v1h-56zM1230 809h12v1h-12zM1242 808h3v1h-3zM1245 807h4v1h-4zM1249 806h10v1h-10zM1259 805h2v1h-2zM1261 804h9v1h-9zM1270 803h21v1h-21zM1291 804h7v1h-7zM1298 805h5v1h-5zM1303 806h12v1h-12zM1315 807h6v1h-6z"/>
<path fill="#dcdcdc" d="M0 831h2v1h-2zM5 831h3v1h-3zM11 831h3v1h-3zM17 831h3v1h-3zM23 831h3v1h-3zM29 831h3v1h-3zM35 831h3v1h-3zM41 831h3v1h-3zM47 831h3v1h-3zM53 831h3v1h-3zM59 831h3v1h-3zM65 831h3v1h-3zM71 831h3v1h-3zM77 831h3v1h-3zM83 831h3v1h-3zM89 831h3v1h-3zM95 831h3v1h-3zM101 831h3v1h-3zM107 831h3v1h-3zM113 831h3v1h-3zM119 831h3v1h-3zM125 831h3v1h-3zM131 831h3v1h-3zM137 831h3v1h-3zM143 831h3v1h-3zM149 831h3v1h-3zM155 831h3v1h-3zM161 831h3v1h-3zM167 831h3v1h-3zM173 831h3v1h-3zM179 831h3v1h-3zM185 831h3v1h-3zM191 831h3v1h-3zM197 831h3v1h-3zM203 831h3v1h-3zM209 831h3v1h-3zM215 831h3v1h-3zM221 831h3v1h-3zM227 831h3v1h-3zM233 831h3v1h-3zM239 831h3v1h-3zM245 831h3v1h-3zM251 831h3v1h-3zM257 831h3v1h-3zM263 831h3v1h-3zM269 831h3v1h-3zM275 831h3v1h-3zM281 831h3v1h-3zM287 831h3v1h-3zM293 831h3v1h-3zM299 831h3v1h-3zM305 831h3v1h-3zM311 831h3v1h-3zM317 831h3v1h-3zM323 831h3v1h-3zM329 831h3v1h-3zM335 831h3v1h-3zM341 831h3v1h-3zM347 831h3v1h-3zM353 831h3v1h-3zM359 831h3v1h-3zM365 831h3v1h-3zM371 831h3v1h-3zM377 831h3v1h-3zM383 831h3v1h-3zM389 831h3v1h-3zM395 831h3v1h-3zM401 831h3v1h-3zM407 831h3v1h-3zM413 831h3v1h-3zM419 831h3v1h-3zM425 831h3v1h-3zM431 831h3v1h-3zM437 831h3v1h-3zM443 831h3v1h-3zM449 831h3v1h-3zM455 831h3v1h-3zM461 831h3v1h-3zM467 831h3v1h-3zM473 831h3v1h-3zM479 831h3v1h-3zM485 831h3v1h-3zM491 831h3v1h-3zM497 831h3v1h-3zM503 831h3v1h-3zM509 831h3v1h-3zM515 831h3v1h-3zM521 831h3v1h-3zM527 831h3v1h-3zM533 831h3v1h-3zM539 831h3v1h-3zM545 831h3v1h-3zM551 831h3v1h-3zM557 831h3v1h-3zM563 831h3v1h-3zM569 831h3v1h-3zM575 831h3v1h-3zM581 831h3v1h-3zM587 831h3v1h-3zM593 831h3v1h-3zM599 831h3v1h-3zM605 831h3v1h-3zM611 831h3v1h-3zM617 831h3v1h-3zM623 831h3v1h-3zM629 831h3v1h-3zM635 831h3v1h-3zM641 831h3v1h-3zM647 831h3v1h-3zM653 831h3v1h-3zM659 831h3v1h-3zM665 831h3v1h-3zM671 831h3v1h-3zM677 831h3v1h-3zM683 831h3v1h-3zM689 831h3v1h-3zM695 831h3v1h-3zM701 831h3v1h-3zM707 831h3v1h-3zM713 831h3v1h-3zM719 831h3v1h-3zM725 831h3v1h-3zM731 831h3v1h-3zM737 831h3v1h-3zM743 831h3v1h-3zM749 831h3v1h-3zM755 831h3v1h-3zM761 831h3v1h-3zM767 831h3v1h-3zM773 831h3v1h-3zM779 831h3v1h-3zM785 831h3v1h-3zM791 831h3v1h-3zM797 831h3v1h-3zM803 831h3v1h-3zM809 831h3v1h-3zM815 831h3v1h-3zM821 831h3v1h-3zM827 831h3v1h-3zM833 831h3v1h-3zM839 831h3v1h-3zM845 831h3v1h-3zM851 831h3v1h-3zM857 831h3v1h-3zM863 831h3v1h-3zM869 831h3v1h-3zM875 831h3v1h-3zM881 831h3v1h-3zM887 831h3v1h-3zM893 831h3v1h-3zM899 831h3v1h-3zM905 831h3v1h-3zM911 831h3v1h-3zM917 831h3v1h-3zM923 831h3v1h-3zM929 831h3v1h-3zM935 831h3v1h-3zM941 831h3v1h-3zM947 831h3v1h-3zM953 831h3v1h-3zM959 831h3v1h-3zM965 831h3v1h-3zM971 831h3v1h-3zM977 831h3v1h-3zM983 831h3v1h-3zM989 831h3v1h-3zM995 831h3v1h-3zM1001 831h3v1h-3zM1007 831h3v1h-3zM1013 831h3v1h-3zM1019 831h3v1h-3zM1025 831h3v1h-3zM1031 831h3v1h-3zM1037 831h3v1h-3zM1043 831h3v1h-3zM1049 831h3v1h-3zM1055 831h3v1h-3zM1061 831h3v1h-3zM1067 831h3v1h-3zM1073 831h3v1h-3zM1079 831h3v1h-3zM1085 831h3v1h-3zM1091 831h3v1h-3zM1097 831h3v1h-3zM1103 831h3v1h-3zM1109 831h3v1h-3zM1115 831h3v1h-3zM1121 831h3v1h-3zM1127 831h3v1h-3zM1133 831h3v1h-3zM1139 831h3v1h-3zM1145 831h3v1h-3zM1151 831h3v1h-3zM1157 831h3v1h-3zM1163 831h3v1h-3zM1169 831h3v1h-3zM1175 831h3v1h-3zM1181 831h3v1h-3zM1187 831h3v1h-3zM1193 831h3v1h-3zM1199 831h3v1h-3zM1205 831h3v1h-3zM1211 831h3v1h-3zM1217 831h3v1h-3zM1223 831h3v1h-3zM1229 831h3v1h-3zM1235 831h3v1h-3zM1241 831h3v1h-3zM1247 831h3v1h-3zM1253 831h3v1h-3zM1259 831h3v1h-3zM1265 831h3v1h-3zM1271 831h3v1h-3zM1277 831h3v1h-3zM1283 831h3v1h-3zM1289 831h3v1h-3zM1295 831h3v1h-3zM1301 831h3v1h-3zM1307 831h3v1h-3zM1313 831h3v1h-3zM1319 831h3v1h-3zM1325 831h3v1h-3zM1331 831h3v1h-3zM1337 831h3v1h-3zM1343 831h3v1h-3zM1349 831h3v1h-3zM1355 831h3v1h-3zM1361 831h3v1h-3zM1367 831h3v1h-3zM1373 831h3v1h-3zM1379 831h3v1h-3zM1385 831h3v1h-3zM1391 831h3v1h-3zM1397 831h3v1h-3zM1403 831h3v1h-3zM1409 831h3v1h-3zM1415 831h3v1h-3zM1421 831h3v1h-3zM1427 831h3v1h-3zM1433 831h3v1h-3zM1439 831h3v1h-3zM1445 831h3v1h-3zM1451 831h3v1h-3zM1457 831h3v1h-3zM1463 831h3v1h-3zM1469 831h3v1h-3zM1475 831h3v1h-3zM1481 831h3v1h-3zM1487 831h3v1h-3zM1493 831h3v1h-3zM1499 831h3v1h-3zM1505 831h3v1h-3zM1511 831h3v1h-3zM1517 831h3v1h-3zM1523 831h3v1h-3zM1529 831h3v1h-3zM1535 831h3v1h-3zM1541 831h3v1h-3zM1547 831h3v1h-3zM1553 831h3v1h-3zM1559 831h3v1h-3zM1565 831h3v1h-3zM1571 831h3v1h-3zM1577 831h3v1h-3zM1583 831h3v1h-3zM1589 831h3v1h-3zM1595 831h3v1h-3zM1601 831h3v1h-3zM1607 831h3v1h-3zM1613 831h3v1h-3zM1619 831h3v1h-3zM1625 831h3v1h-3zM1631 831h3v1h-3zM1637 831h3v1h-3zM1643 831h3v1h-3zM1649 831h3v1h-3zM1655 831h3v1h-3zM1661 831h3v1h-3zM1667 831h3v1h-3zM1673 831h3v1h-3zM1679 831h3v1h-3zM1685 831h3v1h-3zM1691 831h3v1h-3zM0 845h2v1h-2zM5 845h3v1h-3zM11 845h3v1h-3zM17 845h3v1h-3zM23 845h3v1h-3zM29 845h3v1h-3zM35 845h3v1h-3zM41 845h3v1h-3zM47 845h3v1h-3zM53 845h3v1h-3zM59 845h3v1h-3zM65 845h3v1h-3zM71 845h3v1h-3zM77 845h3v1h-3zM83 845h3v1h-3zM89 845h3v1h-3zM95 845h3v1h-3zM101 845h3v1h-3zM107 845h3v1h-3zM113 845h3v1h-3zM119 845h3v1h-3zM125 845h3v1h-3zM131 845h3v1h-3zM137 845h3v1h-3zM143 845h3v1h-3zM149 845h3v1h-3zM155 845h3v1h-3zM161 845h3v1h-3zM167 845h3v1h-3zM173 845h3v1h-3zM179 845h3v1h-3zM185 845h3v1h-3zM191 845h3v1h-3zM197 845h3v1h-3zM203 845h3v1h-3zM209 845h3v1h-3zM215 845h3v1h-3zM221 845h3v1h-3zM227 845h3v1h-3zM233 845h3v1h-3zM239 845h3v1h-3zM245 845h3v1h-3zM251 845h3v1h-3zM257 845h3v1h-3zM263 845h3v1h-3zM269 845h3v1h-3zM275 845h3v1h-3zM281 845h3v1h-3zM287 845h3v1h-3zM293 845h3v1h-3zM299 845h3v1h-3zM305 845h3v1h-3zM311 845h3v1h-3zM317 845h3v1h-3zM323 845h3v1h-3zM329 845h3v1h-3zM335 845h3v1h-3zM341 845h3v1h-3zM347 845h3v1h-3zM353 845h3v1h-3zM359 845h3v1h-3zM365 845h3v1h-3zM371 845h3v1h-3zM377 845h3v1h-3zM383 845h3v1h-3zM389 845h3v1h-3zM395 845h3v1h-3zM401 845h3v1h-3zM407 845h3v1h-3zM413 845h3v1h-3zM419 845h3v1h-3zM425 845h3v1h-3zM431 845h3v1h-3zM437 845h3v1h-3zM443 845h3v1h-3zM449 845h3v1h-3zM455 845h3v1h-3zM461 845h3v1h-3zM467 845h3v1h-3zM473 845h3v1h-3zM479 845h3v1h-3zM485 845h3v1h-3zM491 845h3v1h-3zM497 845h3v1h-3zM503 845h3v1h-3zM509 845h3v1h-3zM515 845h3v1h-3zM521 845h3v1h-3zM527 845h3v1h-3zM533 845h3v1h-3zM539 845h3v1h-3zM545 845h3v1h-3zM551 845h3v1h-3zM557 845h3v1h-3zM563 845h3v1h-3zM569 845h3v1h-3zM575 845h3v1h-3zM581 845h3v1h-3zM587 845h3v1h-3zM593 845h3v1h-3zM599 845h3v1h-3zM605 845h3v1h-3zM611 845h3v1h-3zM617 845h3v1h-3zM623 845h3v1h-3zM629 845h3v1h-3zM635 845h3v1h-3zM641 845h3v1h-3zM647 845h3v1h-3zM653 845h3v1h-3zM659 845h3v1h-3zM665 845h3v1h-3zM671 845h3v1h-3zM677 845h3v1h-3zM683 845h3v1h-3zM689 845h3v1h-3zM695 845h3v1h-3zM701 845h3v1h-3zM707 845h3v1h-3zM713 845h3v1h-3zM719 845h3v1h-3zM725 845h3v1h-3zM731 845h3v1h-3zM737 845h3v1h-3zM743 845h3v1h-3zM749 845h3v1h-3zM755 845h3v1h-3zM761 845h3v1h-3zM767 845h3v1h-3zM773 845h3v1h-3zM779 845h3v1h-3zM785 845h3v1h-3zM791 845h3v1h-3zM797 845h3v1h-3zM803 845h3v1h-3zM809 845h3v1h-3zM815 845h3v1h-3zM821 845h3v1h-3zM827 845h3v1h-3zM833 845h3v1h-3zM839 845h3v1h-3zM845 845h3v1h-3zM851 845h3v1h-3zM857 845h3v1h-3zM863 845h3v1h-3zM869 845h3v1h-3zM875 845h3v1h-3zM881 845h3v1h-3zM887 845h3v1h-3zM893 845h3v1h-3zM899 845h3v1h-3zM905 845h3v1h-3zM911 845h3v1h-3zM917 845h3v1h-3zM923 845h3v1h-3zM929 845h3v1h-3zM935 845h3v1h-3zM941 845h3v1h-3zM947 845h3v1h-3zM953 845h3v1h-3zM959 845h3v1h-3zM965 845h3v1h-3zM971 845h3v1h-3zM977 845h3v1h-3zM983 845h3v1h-3zM989 845h3v1h-3zM995 845h3v1h-3zM1001 845h3v1h-3zM1007 845h3v1h-3zM1013 845h3v1h-3zM1019 845h3v1h-3zM1025 845h3v1h-3zM1031 845h3v1h-3zM1037 845h3v1h-3zM1043 845h3v1h-3zM1049 845h3v1h-3zM1055 845h3v1h-3zM1061 845h3v1h-3zM1067 845h3v1h-3zM1073 845h3v1h-3zM1079 845h3v1h-3zM1085 845h3v1h-3zM1091 845h3v1h-3zM1097 845h3v1h-3zM1103 845h3v1h-3zM1109 845h3v1h-3zM1115 845h3v1h-3zM1121 845h3v1h-3zM1127 845h3v1h-3zM1133 845h3v1h-3zM1139 845h3v1h-3zM1145 845h3v1h-3zM1151 845h3v1h-3zM1157 845h3v1h-3zM1163 845h3v1h-3zM1169 845h3v1h-3zM1175 845h3v1h-3zM1181 845h3v1h-3zM1187 845h3v1h-3zM1193 845h3v1h-3zM1199 845h3v1h-3zM1205 845h3v1h-3zM1211 845h3v1h-3zM1217 845h3v1h-3zM1223 845h3v1h-3zM1229 845h3v1h-3zM1235 845h3v1h-3zM1241 845h3v1h-3zM1247 845h3v1h-3zM1253 845h3v1h-3zM1259 845h3v1h-3zM1265 845h3v1h-3zM1271 845h3v1h-3zM1277 845h3v1h-3zM1283 845h3v1h-3zM1289 845h3v1h-3zM1295 845h3v1h-3zM1301 845h3v1h-3zM1307 845h3v1h-3zM1313 845h3v1h-3zM1319 845h3v1h-3zM1325 845h3v1h-3zM1331 845h3v1h-3zM1337 845h3v1h-3zM1343 845h3v1h-3zM1349 845h3v1h-3zM1355 845h3v1h-3zM1361 845h3v1h-3zM1367 845h3v1h-3zM1373 845h3v1h-3zM1379 845h3v1h-3zM1385 845h3v1h-3zM1391 845h3v1h-3zM1397 845h3v1h-3zM1403 845h3v1h-3zM1409 845h3v1h-3zM1415 845h3v1h-3zM1421 845h3v1h-3zM1427 845h3v1h-3zM1433 845h3v1h-3zM1439 845h3v1h-3zM1445 845h3v1h-3zM1451 845h3v1h-3zM1457 845h3v1h-3zM1463 845h3v1h-3zM1469 845h3v1h-3zM1475 845h3v1h-3zM1481 845h3v1h-3zM1487 845h3v1h-3zM1493 845h3v1h-3zM1499 845h3v1h-3zM1505 845h3v1h-3zM1511 845h3v1h-3zM1517 845h3v1h-3zM1523 845h3v1h-3zM1529 845h3v1h-3zM1535 845h3v1h-3zM1541 845h3v1h-3zM1547 845h3v1h-3zM1553 845h3v1h-3zM1559 845h3v1h-3zM1565 845h3v1h-3zM1571 845h3v1h-3zM1577 845h3v1h-3zM1583 845h3v1h-3zM1589 845h3v1h-3zM1595 845h3v1h-3zM1601 845h3v1h-3zM1607 845h3v1h-3zM1613 845h3v1h-3zM1619 845h3v1h-3zM1625 845h3v1h-3zM1631 845h3v1h-3zM1637 845h3v1h-3zM1643 845h3v1h-3zM1649 845h3v1h-3zM1655 845h3v1h-3zM1661 845h3v1h-3zM1667 845h3v1h-3zM1673 845h3v1h-3zM1679 845h3v1h-3zM1685 845h3v1h-3zM1691 845h3v1h-3z"/>
<path fill="#1e90ff" d="M0 839h2v1h-2zM2 840h4v1h-4zM6 841h4v1h-4zM10 842h9v1h-9zM19 841h3v1h-3zM22 842h3v1h-3zM25 841h1v1h-1zM26 840h1v1h-1zM27 839h1v1h-1zM28 838h5v1h-5zM33 839h2v1h-2zM35 840h7v1h-7zM42 841h5v1h-5zM47 840h3v1h-3zM50 841h3v1h-3zM53 842h2v1h-2zM55 843h2v1h-2zM57 844h2v1h-2zM59 845h4v1h-4zM63 844h3v1h-3zM66 845h8v1h-8zM74 846h5v1h-5zM79 845h2v1h-2zM81 844h2v1h-2zM83 843h1v1h-1zM84 842h2v1h-2zM86 843h8v1h-8zM94 844h4v1h-4zM98 845h15v1h-15zM113 843h1v2h-1zM114 841h1v2h-1zM115 839h1v2h-1zM116 837h1v2h-1zM117 837h1v1h-1zM118 838h4v1h-4zM122 839h9v1h-9zM131 838h7v1h-7zM138 837h2v1h-2zM140 836h2v1h-2zM142 837h3v1h-3zM145 838h1v1h-1zM146 839h2v1h-2zM148 840h1v1h-1zM149 839h2v1h-2zM151 838h1v1h-1zM152 837h3v1h-3zM155 836h7v1h-7zM162 837h5v1h-5zM167 836h6v1h-6zM173 837h2v1h-2zM175 838h3v1h-3zM178 837h2v1h-2zM180 836h3v1h-3zM183 835h3v1h-3zM186 836h4v1h-4zM190 837h4v1h-4zM194 836h2v1h-2zM196 835h2v1h-2zM198 834h2v1h-2zM200 833h6v1h-6zM206 834h5v1h-5zM211 833h6v1h-6zM217 834h2v1h-2zM219 835h2v1h-2zM221 836h1v1h-1zM222 837h2v1h-2zM224 838h2v1h-2zM226 837h2v1h-2zM228 836h2v1h-2zM230 837h4v1h-4zM234 836h2v1h-2zM236 835h3v1h-3zM239 834h2v1h-2zM241 833h2v1h-2zM243 832h1v1h-1zM244 831h2v1h-2zM246 832h4v1h-4zM250 831h2v1h-2zM252 830h6v1h-6zM258 831h4v1h-4zM262 832h8v1h-8zM270 833h4v1h-4zM274 832h2v1h-2zM276 831h2v1h-2zM278 830h2v1h-2zM280 829h11v1h-11zM291 828h15v1h-15zM306 829h7v1h-7zM313 830h1v1h-1zM314 831h2v1h-2zM316 832h6v1h-6zM322 833h7v1h-7zM329 834h2v1h-2zM331 835h6v1h-6zM337 836h2v1h-2zM339 837h3v1h-3zM342 838h9v1h-9zM351 837h6v1h-6zM357 838h2v1h-2zM359 839h3v1h-3zM362 838h2v1h-2zM364 837h2v1h-2zM366 838h3v1h-3zM369 839h2v1h-2zM371 840h3v1h-3zM374 839h2v1h-2zM376 838h3v1h-3zM379 837h3v1h-3zM382 838h5v1h-5zM387 837h8v1h-8zM395 836h2v1h-2zM397 835h1v1h-1zM398 834h1v1h-1zM399 832h1v2h-1zM400 831h1v1h-1zM401 832h1v1h-1zM402 833h2v1h-2zM404 834h7v1h-7zM411 833h3v1h-3zM414 832h2v1h-2zM416 831h1v1h-1zM417 832h1v1h-1zM418 833h1v1h-1zM419 834h1v1h-1zM420 835h2v1h-2zM422 836h5v1h-5zM427 835h4v1h-4zM431 834h4v1h-4zM435 833h2v1h-2zM437 832h1v1h-1zM438 831h1v1h-1zM439 829h1v2h-1zM440 828h2v1h-2zM442 829h5v1h-5zM447 828h6v1h-6zM453 829h1v1h-1zM454 830h2v1h-2zM456 831h11v1h-11zM467 830h3v1h-3zM470 831h5v1h-5zM475 830h7v1h-7zM482 831h12v1h-12zM494 832h8v1h-8zM502 833h3v1h-3zM505 834h1v1h-1zM506 835h2v1h-2zM508 836h7v1h-7zM515 835h2v1h-2zM517 836h2v1h-2zM519 837h8v1h-8zM527 836h20v1h-20zM547 835h7v1h-7zM554 836h4v1h-4zM558 837h8v1h-8zM566 838h3v1h-3zM569 839h2v1h-2zM571 840h7v1h-7zM578 841h20v1h-20zM598 840h2v1h-2zM600 839h1v1h-1zM601 840h2v1h-2zM603 841h3v1h-3zM606 842h8v1h-8zM614 843h4v1h-4zM618 844h5v1h-5zM623 843h3v1h-3zM626 842h2v1h-2zM628 841h1v1h-1zM629 842h2v1h-2zM631 843h2v1h-2zM633 844h1v1h-1zM634 845h2v1h-2zM636 846h1v1h-1zM637 847h2v1h-2zM639 848h4v1h-4zM643 847h2v1h-2zM645 846h2v1h-2zM647 845h1v1h-1zM648 844h6v1h-6zM654 845h3v1h-3zM657 844h1v1h-1zM658 843h1v1h-1zM659 842h1v1h-1zM660 841h2v1h-2zM662 840h2v1h-2zM664 839h6v1h-6zM670 840h5v1h-5zM675 839h4v1h-4zM679 838h3v1h-3zM682 839h4v1h-4zM686 840h5v1h-5zM691 839h6v1h-6zM697 840h1v1h-1zM698 841h2v1h-2zM700 842h10v1h-10zM710 843h11v1h-11zM721 844h2v1h-2zM723 845h1v1h-1zM724 846h1v1h-1zM725 845h1v1h-1zM726 844h1v1h-1zM727 843h1v1h-1zM728 842h2v1h-2zM730 843h4v1h-4zM734 842h2v1h-2zM736 841h7v1h-7zM743 840h2v1h-2zM745 841h2v1h-2zM747 842h8v1h-8zM755 841h2v1h-2zM757 842h2v1h-2zM759 843h7v1h-7zM766 842h2v1h-2zM768 841h2v1h-2zM770 842h16v1h-16zM786 843h5v1h-5zM791 842h2v1h-2zM793 843h1v1h-1zM794 844h2v1h-2zM796 845h3v1h-3zM799 844h2v1h-2zM801 843h2v1h-2zM803 842h1v1h-1zM804 841h2v1h-2zM806 842h12v1h-12zM818 843h4v1h-4zM822 842h2v1h-2zM824 841h5v1h-5zM829 840h2v1h-2zM831 839h1v1h-1zM832 838h7v1h-7zM839 837h2v1h-2zM841 838h2v1h-2zM843 839h6v1h-6zM849 838h1v1h-1zM850 837h1v1h-1zM851 836h1v1h-1zM852 835h10v1h-10zM862 836h9v1h-9zM871 835h2v1h-2zM873 836h1v1h-1zM874 837h1v1h-1zM875 838h1v1h-1zM876 839h2v1h-2zM878 840h3v1h-3zM881 841h2v1h-2zM883 842h4v1h-4zM887 841h2v1h-2zM889 842h2v1h-2zM891 843h3v1h-3zM894 842h2v1h-2zM896 841h3v1h-3zM899 840h11v1h-11zM910 841h4v1h-4zM914 842h4v1h-4zM918 843h5v1h-5zM923 842h3v1h-3zM926 843h9v1h-9zM935 842h3v1h-3zM938 841h2v1h-2zM940 840h6v1h-6zM946 841h5v1h-5zM951 840h8v1h-8zM959 839h3v1h-3zM962 840h4v1h-4zM966 841h8v1h-8zM974 842h4v1h-4zM978 841h2v1h-2zM980 840h3v1h-3zM983 839h2v1h-2zM985 838h2v1h-2zM987 837h1v1h-1zM988 836h1v1h-1zM989 837h1v1h-1zM990 838h1v1h-1zM991 839h1v1h-1zM992 840h2v1h-2zM994 839h2v1h-2zM996 838h1v1h-1zM997 839h2v1h-2zM999 840h3v1h-3zM1002 841h3v1h-3zM1005 842h2v1h-2zM1007 843h4v1h-4zM1011 842h2v1h-2zM1013 843h2v1h-2zM1015 844h2v1h-2zM1017 843h2v1h-2zM1019 842h1v1h-1zM1020 841h7v1h-7zM1027 840h7v1h-7zM1034 839h2v1h-2zM1036 838h5v1h-5zM1041 839h2v1h-2zM1043 840h4v1h-4zM1047 839h4v1h-4zM1051 838h3v1h-3zM1054 839h4v1h-4zM1058 840h12v1h-12zM1070 841h8v1h-8zM1078 842h11v1h-11zM1089 843h1v1h-1zM1090 844h2v1h-2zM1092 845h11v1h-11zM1103 846h2v1h-2zM1105 845h3v1h-3zM1108 844h2v1h-2zM1110 843h2v1h-2zM1112 842h2v1h-2zM1114 841h2v1h-2zM1116 840h2v1h-2zM1118 841h3v1h-3zM1121 842h2v1h-2zM1123 843h4v1h-4zM1127 842h22v1h-22zM1149 843h2v1h-2zM1151 844h3v1h-3zM1154 843h2v1h-2zM1156 842h3v1h-3zM1159 841h10v1h-10zM1169 840h1v1h-1zM1170 839h1v1h-1zM1171 837h1v2h-1zM1172 836h1v1h-1zM1173 837h1v1h-1zM1174 838h1v1h-1zM1175 839h1v1h-1zM1176 840h2v1h-2zM1178 841h4v1h-4zM1182 842h4v1h-4zM1186 843h5v1h-5zM1191 842h8v1h-8zM1199 841h6v1h-6zM1205 842h2v1h-2zM1207 843h3v1h-3zM1210 842h2v1h-2zM1212 841h2v1h-2zM1214 840h2v1h-2zM1216 839h2v1h-2zM1218 838h2v1h-2zM1220 837h1v1h-1zM1221 838h1v1h-1zM1222 839h2v1h-2zM1224 840h2v1h-2zM1226 839h2v1h-2zM1228 838h2v1h-2zM1230 837h2v1h-2zM1232 836h2v1h-2zM1234 837h5v1h-5zM1239 836h4v1h-4zM1243 835h4v1h-4zM1247 834h3v1h-3zM1250 835h4v1h-4zM1254 836h11v1h-11zM1265 837h2v1h-2zM1267 838h4v1h-4zM1271 837h6v1h-6zM1277 838h1v1h-1zM1278 839h2v1h-2zM1280 840h6v1h-6zM1286 841h16v1h-16zM1302 842h13v1h-13zM1315 841h2v1h-2zM1317 842h2v1h-2zM1319 843h2v1h-2z"/>
</g>
<text class="ax" x="-0.3" y="798.1" textLength="30.6" lengthAdjust="spacingAndGlyphs">.0763</text>
<text class="ax" x="1701.3" y="796" textLength="38.3" lengthAdjust="spacingAndGlyphs">0.8248</text>
<text class="ax" x="1701.5" y="809.5" textLength="23.8" lengthAdjust="spacingAndGlyphs">0.00</text>
<text class="ax" x="1702.4" y="814.9" textLength="40" lengthAdjust="spacingAndGlyphs">-0.4747</text>
<text class="ax" x="1701.2" y="834" textLength="20.4" lengthAdjust="spacingAndGlyphs">100</text>
<text class="ax" x="1701.2" y="836.5" textLength="13" lengthAdjust="spacingAndGlyphs">70</text>
<text class="ax" x="1701.2" y="849" textLength="12.6" lengthAdjust="spacingAndGlyphs">30</text>
<text class="ax" x="1701.2" y="852.5" textLength="6.6" lengthAdjust="spacingAndGlyphs">0</text>
<path fill="#fff" shape-rendering="crispEdges" d="M1698 784h1v1h-1zM1698 805h1v1h-1zM1698 817h1v1h-1zM1698 822h1v1h-1z"/>
<path fill="#1e90ff" shape-rendering="crispEdges" d="M1160 527h6v1h-6zM1166 528h11v1h-11zM1177 529h1v1h-1zM1184 529h5v1h-5zM1189 530h11v1h-11zM1200 531h2v1h-2zM1208 531h3v1h-3zM1211 532h11v1h-11zM1222 533h4v1h-4zM1232 533h2v1h-2zM1234 534h11v1h-11zM1245 535h5v1h-5zM1256 536h11v1h-11zM1267 537h7v1h-7zM1280 538h10v1h-10zM1290 539h8v1h-8zM1304 540h9v1h-9zM1313 541h9v1h-9zM1328 542h7v1h-7zM1335 543h11v1h-11zM1352 544h6v1h-6zM1358 545h11v1h-11zM1369 546h1v1h-1zM1376 546h4v1h-4zM1380 547h11v1h-11zM1391 548h3v1h-3zM1400 548h3v1h-3zM1403 549h11v1h-11zM1414 550h4v1h-4zM1424 550h1v1h-1zM1425 551h11v1h-11zM1436 552h6v1h-6zM1448 553h11v1h-11zM1459 554h5v1h-5z"/>
<g fill="none" stroke="#fff" stroke-width="2.8" stroke-linecap="butt" stroke-linejoin="miter">
<path d="M1406.6 495 L1439.4 277"/>
<path d="M1424.5 301 L1439.4 277.5 L1450.8 306.5" stroke-width="2.6"/>
<path d="M1383.5 598 L1404.8 556.4 L1469.6 718" stroke-linejoin="round"/>
<path d="M1462.3 713.2 L1469.6 719.6 L1471 705.5" stroke-width="2.8" stroke-linejoin="bevel"/>
</g>
<g fill="none" stroke="#f01c24" stroke-width="3">
<path d="M1374.8 631 L1407.2 738"/>
<path d="M1392.5 722 L1407.3 738.6 L1413.2 714.5" stroke-width="2.8"/>
</g>
<ellipse cx="1373" cy="614.1" rx="37.6" ry="15.8" fill="none" stroke="#ffff00" stroke-width="3"/>
<g stroke="#000" stroke-width="2.7" stroke-linecap="round"><path d="M1493.5 613 L1497 618"/><path d="M1474.5 739 L1478 744"/><path d="M1587.5 236.5 L1588.5 237.5"/></g>
<text class="t" x="895.4" y="99.6" font-size="27.2" textLength="122" lengthAdjust="spacingAndGlyphs" fill="#fff" stroke="#fff" stroke-width="0.9" stroke-linejoin="round">USDJPY</text>
<text class="t" x="897.2" y="141.5" font-size="27.0" textLength="129.6" lengthAdjust="spacingAndGlyphs" fill="#fff" stroke="#fff" stroke-width="0.9" stroke-linejoin="round">H1 Chart</text>
<text class="t" x="1382.3" y="210.3" font-size="20.6" textLength="71.9" lengthAdjust="spacingAndGlyphs" fill="#1e90ff" stroke="#1e90ff" stroke-width="0.6" stroke-linejoin="round">147.50</text>
<text class="t" x="1318.2" y="532.8" font-size="20.6" textLength="104.6" lengthAdjust="spacingAndGlyphs" fill="#1e90ff" stroke="#1e90ff" stroke-width="0.6" stroke-linejoin="round">144.20-40</text>
<text class="t" x="1340.2" y="619.7" font-size="16.0" textLength="60.8" lengthAdjust="spacingAndGlyphs" fill="#fff" stroke="#fff" stroke-width="0.5" stroke-linejoin="round">143.60</text>
<text class="t" x="1358.1" y="771.7" font-size="20.6" textLength="104.9" lengthAdjust="spacingAndGlyphs" fill="#fff" stroke="#fff" stroke-width="0.6" stroke-linejoin="round">141.50-90</text>
</svg></body></html>
